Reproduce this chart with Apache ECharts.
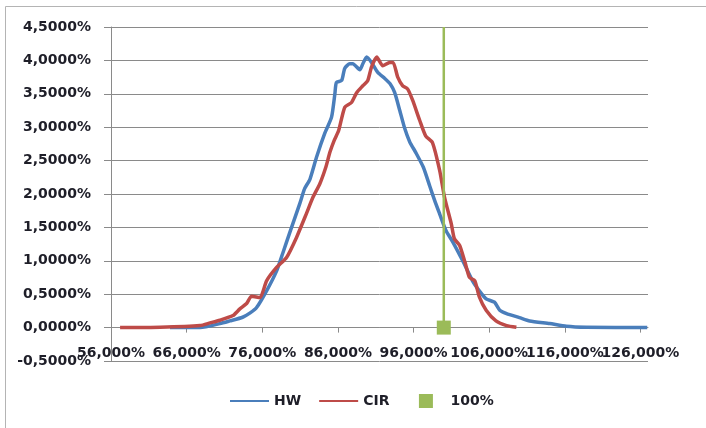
<!DOCTYPE html>
<html>
<head>
<meta charset="utf-8">
<script src="https://cdn.jsdelivr.net/npm/echarts@6/dist/echarts.min.js"></script>
<style>
html,body{margin:0;padding:0;background:#fff;}
#chart{width:706px;height:428px;}
</style>
</head>
<body>
<div id="chart"></div>
<script>
// ---- data (x in %, y in %) ----
var hwX = [63.8, 67.8, 70.4, 71.7, 73.4, 74.4, 75.25, 76.57, 77.9, 78.7, 79.6, 80.97, 81.6, 82.3, 83.17, 84.27, 85.16, 85.6, 85.8, 86.5, 86.9, 87.57, 87.97, 88.9, 89.3, 89.8, 90.44, 91.27, 92.2, 92.9, 93.5, 94.18, 94.84, 95.5, 96.3, 97.3, 98.14, 98.8, 99.46, 100.3, 101.2, 102.5, 103.8, 104.7, 105.6, 106.7, 107.4, 108.3, 110.0, 111.35, 114.0, 116.2, 118.8, 126.9];
var hwY = [0.0, 0.0, 0.06, 0.10, 0.155, 0.22, 0.30, 0.55, 0.85, 1.11, 1.41, 1.86, 2.08, 2.22, 2.55, 2.91, 3.15, 3.50, 3.67, 3.70, 3.88, 3.95, 3.95, 3.86, 3.95, 4.05, 3.97, 3.82, 3.73, 3.65, 3.52, 3.25, 2.98, 2.78, 2.62, 2.40, 2.12, 1.90, 1.70, 1.45, 1.28, 1.00, 0.70, 0.55, 0.43, 0.38, 0.26, 0.21, 0.15, 0.10, 0.06, 0.02, 0.005, 0.0];
var cirX = [57.2, 62.5, 67.76, 69.1, 70.4, 72.12, 73.04, 73.93, 74.59, 75.69, 76.57, 77.89, 79.21, 80.53, 81.85, 82.7, 83.6, 84.4, 84.93, 85.5, 86.1, 86.91, 87.80, 88.5, 89.29, 89.95, 90.44, 91.14, 91.93, 92.86, 93.3, 93.91, 94.57, 95.23, 95.89, 96.82, 97.6, 98.5, 99.46, 100.1, 101.0, 101.4, 102.1, 102.8, 103.4, 104.1, 104.7, 105.6, 106.9, 108.3, 109.6];
var cirY = [0.0, 0.005, 0.03, 0.07, 0.11, 0.18, 0.28, 0.36, 0.47, 0.45, 0.70, 0.90, 1.05, 1.35, 1.71, 1.95, 2.15, 2.40, 2.62, 2.80, 2.95, 3.30, 3.37, 3.52, 3.62, 3.70, 3.90, 4.05, 3.92, 3.97, 3.97, 3.75, 3.62, 3.57, 3.40, 3.10, 2.87, 2.77, 2.35, 1.95, 1.55, 1.33, 1.23, 0.98, 0.75, 0.70, 0.46, 0.26, 0.10, 0.03, 0.005];
var refX = 100;          // 100% marker
var refTop = 4.5;
var xTickValues = [56, 66, 76, 86, 96, 106, 116, 126];
var xMin = 56, xMax = 127;
var seriesNames = ['HW', 'CIR', '100%'];

function pairs(xs, ys) { return xs.map(function (x, i) { return [x, ys[i]]; }); }

var fontFam = '"DejaVu Sans", sans-serif';
var textColor = '#1e1e28';
var gridColor = '#8a8a8a';
var yMin = -0.5, yMax = 4.5;
var gridTop = 27, gridBottom = 67;
var plotH = 428 - gridTop - gridBottom;
var zeroOffset = -plotH * (0 - yMin) / (yMax - yMin);

var chart = echarts.init(document.getElementById('chart'), null, {renderer: 'canvas'});
chart.setOption({
  animation: false,
  backgroundColor: '#fff',
  graphic: [{
    type: 'rect', z: -10, silent: true,
    shape: {x: 5.5, y: 6.5, width: 760, height: 480},
    style: {fill: 'none', stroke: '#b4b4b4', lineWidth: 1}
  }],
  grid: {left: 111, right: 58, top: gridTop, bottom: gridBottom, containLabel: false},
  xAxis: {
    type: 'value', min: xMin, max: xMax, offset: zeroOffset,
    axisLine: {show: true, onZero: false, lineStyle: {color: gridColor, width: 1}},
    axisTick: {show: true, length: 5, inside: false, customValues: xTickValues, lineStyle: {color: gridColor}},
    axisLabel: {
      // extra end value carries a blank label so that no real label is dropped
      customValues: xTickValues.concat([xMax]), margin: 19, hideOverlap: false,
      showMinLabel: true,
      fontFamily: fontFam, fontSize: 14, fontWeight: 'bold', color: textColor,
      formatter: function (v) {
        if (xTickValues.indexOf(v) < 0) return ' ';
        return v.toFixed(3).replace('.', ',') + '%';
      }
    },
    splitLine: {show: false}
  },
  yAxis: {
    type: 'value', min: yMin, max: yMax, interval: 0.5,
    axisLine: {show: true, lineStyle: {color: gridColor, width: 1}},
    axisTick: {show: true, length: 7, inside: false, lineStyle: {color: gridColor}},
    axisLabel: {
      margin: 20, fontFamily: fontFam, fontSize: 14, fontWeight: 'bold', color: textColor,
      showMinLabel: true, showMaxLabel: true,
      formatter: function (v) { return v.toFixed(4).replace('.', ',') + '%'; }
    },
    splitLine: {show: true, lineStyle: {color: gridColor, width: 1}}
  },
  legend: {
    left: 229, top: 394, padding: 0,
    itemWidth: 39, itemHeight: 17.5, itemGap: 17,
    textStyle: {fontFamily: fontFam, fontSize: 14, fontWeight: 'bold', color: textColor},
    data: [
      {name: seriesNames[0], itemStyle: {opacity: 0}},
      {name: seriesNames[1], itemStyle: {opacity: 0}},
      {name: seriesNames[2], lineStyle: {width: 0, opacity: 0}}
    ]
  },
  series: [
    {
      name: seriesNames[0], type: 'line', data: pairs(hwX, hwY),
      symbol: 'none', smooth: 0.2,
      lineStyle: {color: '#4a7ebb', width: 3.5, join: 'round'},
      itemStyle: {color: '#4a7ebb'}
    },
    {
      name: seriesNames[1], type: 'line', data: pairs(cirX, cirY),
      symbol: 'none', smooth: 0.2,
      lineStyle: {color: '#be4b48', width: 3.5, join: 'round'},
      itemStyle: {color: '#be4b48'}
    },
    {
      name: seriesNames[2], type: 'line',
      data: [{value: [refX, 0]}, {value: [refX, refTop], symbol: 'none'}],
      symbol: 'rect', symbolSize: 14,
      lineStyle: {color: '#9bbb59', width: 2.5},
      itemStyle: {color: '#9bbb59'}
    }
  ]
});
</script>
</body>
</html>
